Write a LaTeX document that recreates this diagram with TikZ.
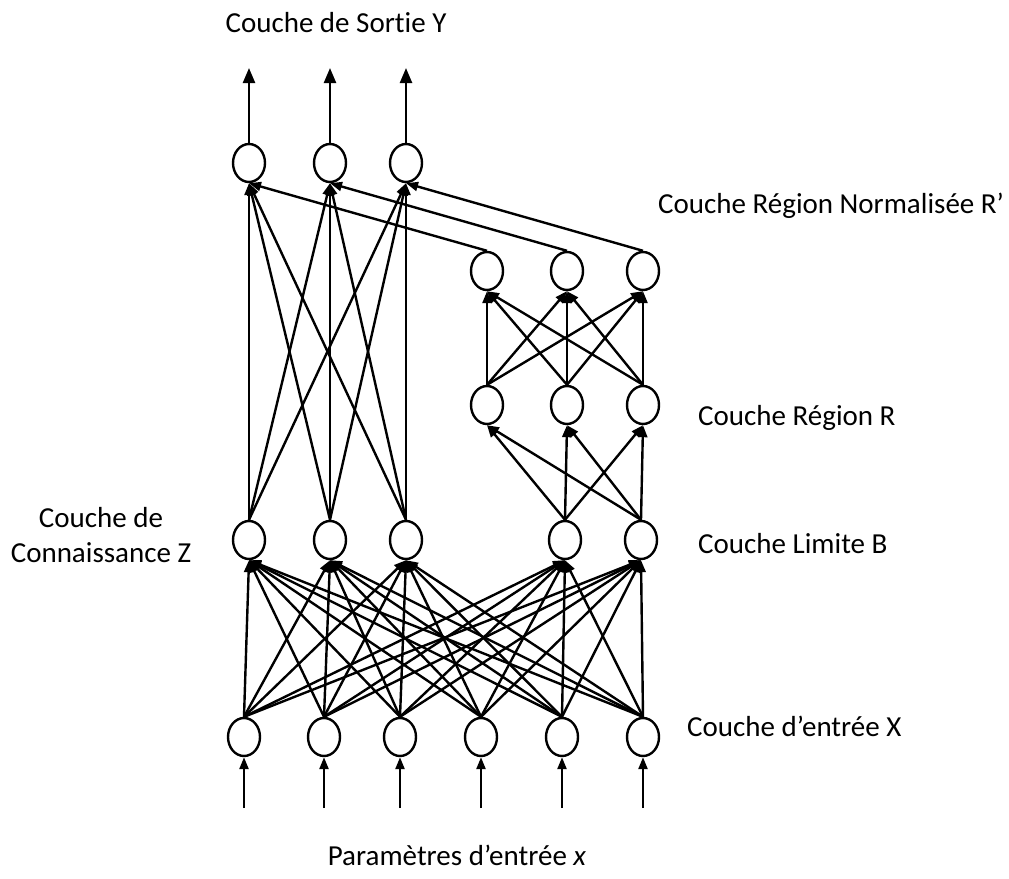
\documentclass[tikz,border=0pt]{standalone}
\usepackage{fontspec}
\setmainfont[Ligatures=NoCommon]{Carlito}
\usetikzlibrary{shapes.geometric,arrows.meta}
\begin{document}
\begin{tikzpicture}[x=1pt,y=-1pt,
  neuron/.style={draw, line width=2.4pt, ellipse, minimum width=32pt, minimum height=38pt, inner sep=0pt},
  link/.style={line width=2.4pt, -{Triangle[length=12pt,width=9pt]}},
  outlink/.style={line width=2.4pt, -{Triangle[length=15pt,width=12pt]}},
  lbl/.style={font=\fontsize{29}{35}\selectfont, inner sep=0pt}]
\useasboundingbox (0,0) rectangle (1009,878);

% input layer X
\foreach \n/\px in {1/244,2/324,3/400,4/481,5/562,6/643}{
  \node[neuron] (x\n) at (\px,737) {};
  \coordinate (in\n) at (\px,808);
}
% knowledge layer Z and boundary layer B
\node[neuron] (z1) at (249,540) {};
\node[neuron] (z2) at (330,540) {};
\node[neuron] (z3) at (406,540) {};
\node[neuron] (b1) at (565,540) {};
\node[neuron] (b2) at (641,540) {};
% region layer R
\node[neuron] (r1) at (487,405) {};
\node[neuron] (r2) at (567,405) {};
\node[neuron] (r3) at (643,405) {};
% normalised region layer R'
\node[neuron] (q1) at (487,271) {};
\node[neuron] (q2) at (567,271) {};
\node[neuron] (q3) at (643,271) {};
% output layer Y
\foreach \n/\px in {1/249,2/330,3/406}{
  \node[neuron] (y\n) at (\px,163) {};
  \coordinate (out\n) at (\px,68);
}

% inputs and outputs
\foreach \n in {1,...,6} \draw[link] (in\n) -- (x\n.south);
\foreach \n in {1,2,3} \draw[outlink] (y\n.north) -- (out\n);

% X -> Z, B
\foreach \i in {1,...,6}
  \foreach \t in {z1,z2,z3,b1,b2}
    \draw[link] (x\i.north) -- (\t.south);
% Z -> Y
\foreach \i in {1,2,3}
  \foreach \j in {1,2,3}
    \draw[link] (z\i.north) -- (y\j.south);
% B -> R
\foreach \i in {1,2}
  \foreach \j in {1,2,3}
    \draw[link] (b\i.north) -- (r\j.south);
% R -> R'
\foreach \i in {1,2,3}
  \foreach \j in {1,2,3}
    \draw[link] (r\i.north) -- (q\j.south);
% R' -> Y
\foreach \i in {1,2,3}
  \draw[link] (q\i.north) -- (y\i.south);

% layer labels
\node[lbl, anchor=base] (ly) at (336,32) {Couche de Sortie Y};
\node[lbl, anchor=base west] (lq) at (658,213) {Couche Région Normalisée R’};
\node[lbl, anchor=base west] (lr) at (698,425) {Couche Région R};
\node[lbl, anchor=base west] (lb) at (698,553) {Couche Limite B};
\node[lbl, align=center] (lz) at (101,535) {Couche de\\Connaissance Z};
\node[lbl, anchor=base west] (lx) at (687,736) {Couche d’entrée X};
\node[lbl, anchor=base] (lp) at (457,865) {Paramètres d’entrée \textit{x}};
\end{tikzpicture}
\end{document}
